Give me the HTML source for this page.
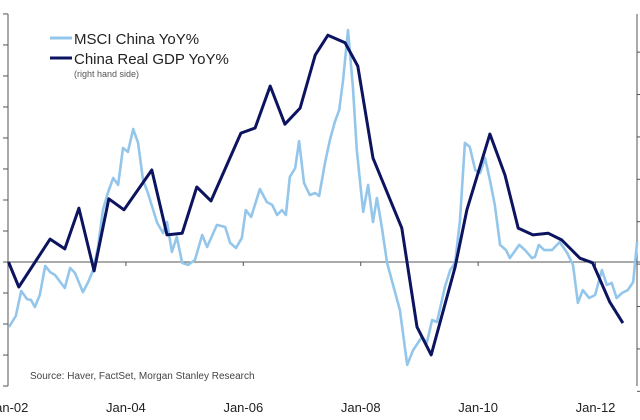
<!DOCTYPE html>
<html><head><meta charset="utf-8"><style>
html,body{margin:0;padding:0;background:#fff;}
svg{display:block;font-family:"Liberation Sans",sans-serif;}
</style></head><body>
<svg id="chart" width="640" height="420" viewBox="0 0 640 420" xmlns="http://www.w3.org/2000/svg">
<g id="axes"></g>
<g id="series"></g>
<g>
<line x1="50" y1="38" x2="72" y2="38" stroke="#93c6ea" stroke-width="3"/>
<text x="74" y="44" font-size="15" fill="#222">MSCI China YoY%</text>
<line x1="50" y1="58" x2="72" y2="58" stroke="#0c1460" stroke-width="3"/>
<text x="74" y="64" font-size="15" fill="#222">China Real GDP YoY%</text>
<text x="74" y="77" font-size="9" fill="#555">(right hand side)</text>
</g>
<text x="30" y="379" font-size="10" fill="#444">Source: Haver, FactSet, Morgan Stanley Research</text>
</svg>
<script>
// months since Jan-2002
const msciMonths=[0.1,1.5,2.6,3.8,4.6,5.4,6.4,7.5,8.5,9.5,11.5,12.6,13.6,15.2,16.3,17.3,18.3,19.3,20.3,21.4,22.4,23.4,24.4,25.5,26.5,27.5,28.5,30.4,31.6,32.4,33.4,34.4,35.5,36.7,38.1,39.6,40.6,42.6,44.3,45.3,46.5,47.7,48.5,49.6,51.4,52.8,53.9,54.9,55.9,56.7,57.5,58.6,59.4,60.4,61.6,62.7,63.5,64.7,65.7,66.7,67.6,68.4,69.4,70.4,71.2,72.5,73.5,74.5,75.3,76.3,77.4,80.0,81.5,82.7,84.5,85.5,86.6,87.6,89.2,90.3,91.3,92.3,93.3,94.3,95.4,96.4,97.4,98.4,99.4,100.5,101.7,102.5,104.4,105.6,107.0,107.6,108.4,109.5,111.1,112.1,112.7,114.2,115.4,116.4,117.4,118.7,119.9,121.3,122.3,123.3,124.3,125.4,126.6,127.7,128.5];
const msciValues=[-41.9,-34.8,-18.7,-23.9,-24.5,-29.0,-21.3,-2.6,-6.5,-8.4,-16.8,-3.9,-7.1,-19.4,-12.9,-5.2,9.7,33.5,44.5,54.2,49.7,73.5,71.0,85.8,76.8,52.9,44.5,25.2,18.7,25.8,6.5,16.1,-0.6,-1.9,1.3,17.4,9.7,23.9,22.6,12.3,9.0,15.5,33.5,29.0,47.1,38.7,36.8,30.3,33.5,30.3,54.8,60.6,78.0,51.0,43.2,44.5,42.6,63.9,78.7,90.3,98.0,117.4,149.6,112.9,72.2,32.3,49.7,25.8,41.3,22.6,-0.6,-31.0,-66.4,-56.8,-48.4,-52.2,-37.4,-38.7,-16.1,-5.2,-0.6,27.1,76.8,74.2,59.3,57.4,67.1,52.9,36.8,11.0,7.7,2.6,11.0,7.7,2.6,3.2,11.0,7.7,7.7,11.0,12.9,5.8,-1.9,-26.4,-18.1,-23.2,-21.3,-5.2,-14.8,-13.5,-23.2,-20.0,-18.1,-12.9,12.9];
const gdpMonths=[0,2.1,8.5,11.5,14.4,17.5,20.5,23.6,29.3,32.4,35.5,38.5,41.4,47.5,50.4,53.5,56.5,59.6,62.7,65.3,68.8,71.4,74.5,80.4,83.5,86.4,91.3,93.7,98.4,101.5,104.2,107.2,110.3,113.1,116.8,119.4,122.9,125.6];
const gdpValues=[9.05,8.46,9.59,9.36,10.32,8.84,10.54,10.28,11.22,9.69,9.73,10.82,10.49,12.09,12.21,13.2,12.3,12.68,13.93,14.4,14.22,13.67,11.5,9.85,7.52,6.86,8.93,10.28,12.07,11.1,9.85,9.69,9.73,9.57,9.14,9.03,8.11,7.61];
const xTickMonths=[0,24,48,72,96,120];
const xTickLabels=["Jan-02","Jan-04","Jan-06","Jan-08","Jan-10","Jan-12"];
const leftTicks=[-80,-60,-40,-20,0,20,40,60,80,100,120,140,160];
const rightTicks=[6,7,8,9,10,11,12,13,14,15];

const NS="http://www.w3.org/2000/svg";
const X=m=>8.5+m*4.892;
const YL=v=>262-v/0.645;
const YR=g=>262-(g-9.05)*42.4;
function mk(tag,attrs,parent){const e=document.createElementNS(NS,tag);for(const k in attrs)e.setAttribute(k,attrs[k]);parent.appendChild(e);return e;}
const axes=document.getElementById('axes');
const series=document.getElementById('series');

let e=mk('line',{x1:8,y1:YL(160),x2:8,y2:YL(-80),stroke:'#555','stroke-width':1},axes);


leftTicks.forEach(t=>{const l=mk('line',{x1:3,y1:YL(t),x2:8,y2:YL(t),stroke:'#555','stroke-width':1},axes);

});
e=mk('line',{x1:637,y1:YL(160),x2:637,y2:YL(-80),stroke:'#555','stroke-width':1},axes);


rightTicks.forEach(t=>{if(YR(t)<10||YR(t)>392)return;const l=mk('line',{x1:637,y1:YR(t),x2:642,y2:YR(t),stroke:'#555','stroke-width':1},axes);

});
e=mk('line',{x1:8,y1:YL(0),x2:640,y2:YL(0),stroke:'#555','stroke-width':1},axes);


xTickMonths.forEach((m,i)=>{const l=mk('line',{x1:X(m),y1:YL(0),x2:X(m),y2:YL(0)+4,stroke:'#555','stroke-width':1},axes);


const t=mk('text',{x:X(m),y:412,'font-size':13,'text-anchor':'middle',fill:'#222'},axes);t.textContent=xTickLabels[i];

});

const msciPts=msciMonths.map((m,i)=>X(m).toFixed(1)+','+YL(msciValues[i]).toFixed(1)).join(' ');
e=mk('polyline',{points:msciPts,fill:'none',stroke:'#93c6ea','stroke-width':2.6,'stroke-linejoin':'round'},series);


const gdpPts=gdpMonths.map((m,i)=>X(m).toFixed(1)+','+YR(gdpValues[i]).toFixed(1)).join(' ');
e=mk('polyline',{points:gdpPts,fill:'none',stroke:'#0c1460','stroke-width':3,'stroke-linejoin':'round'},series);


</script>
</body></html>
